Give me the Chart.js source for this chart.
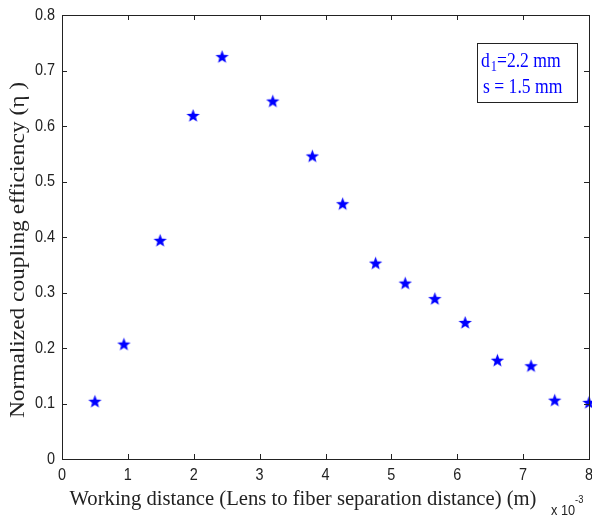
<!DOCTYPE html>
<html>
<head>
<meta charset="utf-8">
<script src="https://cdn.jsdelivr.net/npm/chart.js@4.4.1/dist/chart.umd.min.js"></script>
<style>
  html, body { margin: 0; padding: 0; background: #fff; }
</style>
</head>
<body>
<canvas id="chart" width="592" height="517"></canvas>
<script>
// working distance, in units of 1e-3 m
const distance = [0.5, 0.94, 1.49, 1.99, 2.43, 3.2, 3.8, 4.26, 4.76, 5.21, 5.66, 6.12, 6.61, 7.12, 7.48, 8.0];
// normalized coupling efficiency
const efficiency = [0.104, 0.207, 0.394, 0.619, 0.725, 0.645, 0.546, 0.460, 0.353, 0.317, 0.289, 0.246, 0.178, 0.168, 0.106, 0.102];
const xTicks = [0, 1, 2, 3, 4, 5, 6, 7, 8];
const yTicks = [0, 0.1, 0.2, 0.3, 0.4, 0.5, 0.6, 0.7, 0.8];
const xTitle = "Working distance (Lens to fiber separation distance) (m)";
const yTitle = "Normalized coupling efficiency (\u03b7 )";
const noteD1 = "=2.2 mm";
const noteS = "s = 1.5 mm";

const serif = "'Liberation Serif', 'Times New Roman', serif";
const sans = "'Liberation Sans', Arial, sans-serif";
const ink = "#222";

// filled five point star, like matlab's pentagram marker
function makeStar(size, color) {
  const c = document.createElement("canvas");
  c.width = size; c.height = size;
  const g = c.getContext("2d");
  const cx = size / 2, cy = size / 2 + 0.6;
  const R = size / 2 - 0.5, r = R * 0.42;
  g.beginPath();
  for (let i = 0; i < 10; i++) {
    const rad = i % 2 === 0 ? R : r;
    const a = -Math.PI / 2 + i * Math.PI / 5;
    const px = cx + rad * Math.cos(a), py = cy + rad * Math.sin(a);
    if (i === 0) g.moveTo(px, py); else g.lineTo(px, py);
  }
  g.closePath();
  g.fillStyle = color;
  g.fill();
  return c;
}
const star = makeStar(15, "#0000ff");

// text squeezed/stretched horizontally, the matlab fonts are narrow and tall
function drawText(ctx, text, x, y, font, sx, align) {
  ctx.save();
  ctx.font = font;
  const w = ctx.measureText(text).width * sx;
  let left = x;
  if (align === "center") left = x - w / 2;
  if (align === "right") left = x - w;
  ctx.translate(left, y);
  ctx.scale(sx, 1);
  ctx.textAlign = "left";
  ctx.fillText(text, 0, 0);
  ctx.restore();
  return w;
}
function fitScale(ctx, text, font, width) {
  ctx.save();
  ctx.font = font;
  const w = ctx.measureText(text).width;
  ctx.restore();
  return width / w;
}

const matlabFrame = {
  id: "matlabFrame",
  afterDraw(chart) {
    const { ctx, chartArea: a, scales } = chart;
    const tl = 5;
    ctx.save();
    ctx.strokeStyle = ink;
    ctx.fillStyle = ink;
    ctx.lineWidth = 1;

    // box and inward ticks
    ctx.beginPath();
    scales.x.ticks.forEach((t) => {
      const px = Math.round(scales.x.getPixelForValue(t.value)) + 0.5;
      ctx.moveTo(px, a.bottom); ctx.lineTo(px, a.bottom - tl);
      ctx.moveTo(px, a.top); ctx.lineTo(px, a.top + tl);
    });
    scales.y.ticks.forEach((t) => {
      const py = Math.round(scales.y.getPixelForValue(t.value)) + 0.5;
      ctx.moveTo(a.left, py); ctx.lineTo(a.left + tl, py);
      ctx.moveTo(a.right, py); ctx.lineTo(a.right - tl, py);
    });
    ctx.stroke();
    ctx.strokeRect(Math.round(a.left) + 0.5, Math.round(a.top) + 0.5,
      Math.round(a.right - a.left), Math.round(a.bottom - a.top));

    // tick labels
    const tickFont = "17px " + sans;
    const tsx = 0.85;
    ctx.textBaseline = "middle";
    scales.x.ticks.forEach((t) => {
      drawText(ctx, String(t.value), scales.x.getPixelForValue(t.value), a.bottom + 16, tickFont, tsx, "center");
    });
    scales.y.ticks.forEach((t) => {
      const label = t.value === 0 ? "0" : t.value.toFixed(1);
      drawText(ctx, label, a.left - 7, scales.y.getPixelForValue(t.value), tickFont, tsx, "right");
    });

    // axis titles
    const titleFont = "20px " + serif;
    ctx.textBaseline = "alphabetic";
    drawText(ctx, xTitle, 303, 505, titleFont, fitScale(ctx, xTitle, titleFont, 467), "center");
    ctx.save();
    ctx.translate(24, 250);
    ctx.rotate(-Math.PI / 2);
    drawText(ctx, yTitle, 0, 0, titleFont, fitScale(ctx, yTitle, titleFont, 336), "center");
    ctx.restore();

    // x 10^-3 factor
    let w = drawText(ctx, "x 10", 551, 515, "15px " + sans, 0.85, "left");
    drawText(ctx, "-3", 551 + w, 503, "11px " + sans, 0.85, "left");

    // parameter box
    ctx.fillStyle = "#fff";
    ctx.fillRect(477.5, 43.5, 100, 59);
    ctx.strokeRect(477.5, 43.5, 100, 59);
    ctx.fillStyle = "#0000ff";
    const noteFont = "20px " + serif;
    const nsx = 0.88;
    w = drawText(ctx, "d", 481, 67, noteFont, nsx, "left");
    const w1 = drawText(ctx, "1", 481 + w + 1, 71, "14px " + serif, nsx, "left");
    drawText(ctx, noteD1, 481 + w + w1 + 1, 67, noteFont, nsx, "left");
    drawText(ctx, noteS, 483, 93, noteFont, nsx, "left");
    ctx.restore();
  }
};

new Chart(document.getElementById("chart"), {
  type: "scatter",
  data: {
    datasets: [{
      data: distance.map((d, i) => ({ x: d, y: efficiency[i] })),
      pointStyle: star,
      pointRadius: 7,
      showLine: false
    }]
  },
  options: {
    responsive: false,
    animation: false,
    clip: false,
    layout: { autoPadding: false, padding: { top: 15, right: 3, left: 0, bottom: 0 } },
    plugins: { legend: { display: false }, tooltip: { enabled: false } },
    scales: {
      x: {
        type: "linear",
        min: 0,
        max: 8,
        afterBuildTicks: (s) => { s.ticks = xTicks.map((v) => ({ value: v })); },
        afterFit: (s) => { s.height = 58; },
        grid: { display: false },
        border: { display: false },
        ticks: { display: false }
      },
      y: {
        min: 0,
        max: 0.8,
        afterBuildTicks: (s) => { s.ticks = yTicks.map((v) => ({ value: v })); },
        afterFit: (s) => { s.width = 62; },
        grid: { display: false },
        border: { display: false },
        ticks: { display: false }
      }
    }
  },
  plugins: [matlabFrame]
});
</script>
</body>
</html>
